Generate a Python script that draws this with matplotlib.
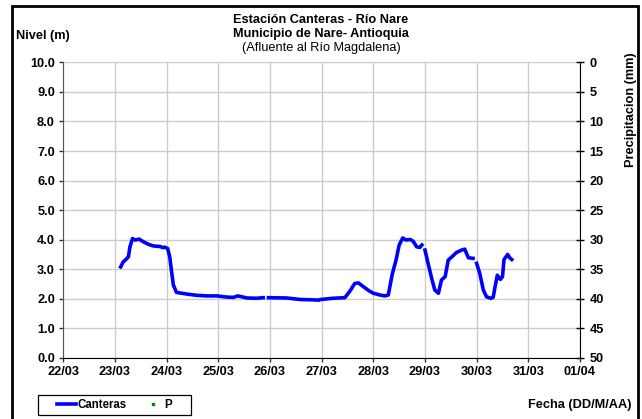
import numpy as np
import matplotlib
matplotlib.use("Agg")
import matplotlib.pyplot as plt
from matplotlib.patches import Rectangle

plt.rcParams['font.family'] = ['Liberation Sans', 'DejaVu Sans']

# nivel (m); day = day of March (32 = 01/04), nan = gap in record
dias = [23.11, 23.16, 23.21, 23.26, 23.29, 23.34, 23.39, 23.47, 23.55, 23.64, 23.74, 23.87, 23.92, np.nan,
        23.97, 24.02, 24.06, 24.10, 24.13, 24.19, 24.29, 24.40, 24.58, 24.77, 24.90, np.nan,
        24.97, 25.16, 25.29, 25.38, 25.55, 25.74, 25.87, np.nan,
        25.97, 26.32, 26.58, 26.77, 26.93, np.nan,
        26.99, 27.22, 27.45, 27.55, 27.64, 27.71, 27.81, 27.92, 28.00, 28.13, 28.22, 28.29,
        28.32, 28.37, 28.44, 28.50, 28.57, 28.63, 28.71, 28.77, 28.84, 28.90, 28.94, np.nan,
        29.00, 29.06, 29.13, 29.19, 29.26, 29.32, 29.39, 29.45, 29.52, 29.61, 29.71, 29.77,
        29.84, 29.93, np.nan,
        30.00, 30.06, 30.13, 30.19, 30.27, 30.32, 30.35, 30.40, 30.43, 30.46, 30.50, 30.53,
        30.60, 30.64, 30.68]
nivel = [3.08, 3.25, 3.33, 3.42, 3.76, 4.04, 3.99, 4.02, 3.93, 3.85, 3.79, 3.77, 3.74, np.nan,
         3.74, 3.70, 3.42, 2.86, 2.47, 2.22, 2.19, 2.16, 2.12, 2.10, 2.10, np.nan,
         2.10, 2.06, 2.05, 2.10, 2.03, 2.02, 2.04, np.nan,
         2.04, 2.03, 1.98, 1.97, 1.96, np.nan,
         1.98, 2.02, 2.04, 2.27, 2.52, 2.54, 2.41, 2.27, 2.19, 2.13, 2.10, 2.13,
         2.41, 2.86, 3.31, 3.82, 4.06, 3.99, 4.01, 3.95, 3.76, 3.74, 3.82, np.nan,
         3.65, 3.20, 2.69, 2.30, 2.19, 2.64, 2.75, 3.31, 3.42, 3.57, 3.65, 3.68,
         3.39, 3.37, np.nan,
         3.20, 2.86, 2.30, 2.07, 2.02, 2.05, 2.35, 2.80, 2.72, 2.66, 2.75, 3.33,
         3.50, 3.39, 3.33]

# precipitacion: no values shown in the chart
dias_p = []
precip = []

dias_ticks = list(range(22, 33))
etiquetas = ['22/03', '23/03', '24/03', '25/03', '26/03', '27/03', '28/03',
             '29/03', '30/03', '31/03', '01/04']

FS = 9.2
W, H = 642, 419

fig = plt.figure(figsize=(6.42, 4.19), dpi=100)
ax = fig.add_axes([0.0986, 0.1456, 0.8048, 0.7057])

ax.plot(dias, nivel, color='#0000FF', lw=2.6, label='Canteras', zorder=3)
ax.set_xlim(22, 32)
ax.set_ylim(0, 10)
ax.set_xticks(dias_ticks)
ax.set_xticklabels(etiquetas)
ax.set_yticks(np.arange(0, 10.1, 1.0))
ax.set_yticklabels([f'{v:.1f}' for v in np.arange(0, 10.1, 1.0)])
ax.grid(True, color='#cccccc', lw=1.0)
ax.set_axisbelow(True)
for lbl in ax.get_xticklabels() + ax.get_yticklabels():
    lbl.set_fontweight('bold')
    lbl.set_fontsize(FS)
ax.tick_params(axis='both', direction='out', length=3, width=1, color='#333333', pad=3)
ax.spines['top'].set_visible(False)
ax.spines['left'].set_color('#555555')
ax.spines['bottom'].set_color('#000000')
ax.spines['right'].set_visible(False)

ax2 = ax.twinx()
ax2.plot(dias_p, precip, 's', color='#008000', ms=2, label='P')
ax2.set_ylim(50, 0)
ax2.set_yticks(range(0, 51, 5))
for lbl in ax2.get_yticklabels():
    lbl.set_fontweight('bold')
    lbl.set_fontsize(FS)
ax2.tick_params(axis='y', direction='inout', length=6, width=1, pad=4)
for s in ['top', 'left', 'bottom']:
    ax2.spines[s].set_visible(False)
ax2.spines['right'].set_color('#000000')
ax2.set_ylabel('Precipitacion (mm)', fontsize=FS, fontweight='bold')
ax2.yaxis.set_label_coords(1.087, 0.84)

fig.text(0.5, 1 - 20 / H, 'Estación Canteras - Río Nare', ha='center', va='center',
         fontsize=FS, fontweight='bold')
fig.text(0.5, 1 - 34 / H, 'Municipio de Nare- Antioquia', ha='center', va='center',
         fontsize=FS, fontweight='bold')
fig.text(0.5, 1 - 48 / H, '(Afluente al Río Magdalena)', ha='center', va='center', fontsize=FS)
fig.text(16 / W, 1 - 36 / H, 'Nivel (m)', ha='left', va='center', fontsize=FS,
         fontweight='bold')
fig.text(632 / W, 1 - 405 / H, 'Fecha (DD/M/AA)', ha='right', va='center', fontsize=FS,
         fontweight='bold')

# legend: entries without frame, box drawn separately
h1, l1 = ax.get_legend_handles_labels()
h2, l2 = ax2.get_legend_handles_labels()
leg = fig.legend(h1 + h2, l1 + l2, loc='center left', bbox_to_anchor=(57 / W, 1 - 405 / H),
                 ncol=2, fontsize=8.3, frameon=False, handlelength=1.65,
                 handletextpad=0.1, columnspacing=1.5, borderpad=0, borderaxespad=0)
for t in leg.get_texts():
    t.set_fontweight('bold')
fig.patches.append(Rectangle((38 / W, 1 - 415 / H), 153 / W, 20 / H,
                             transform=fig.transFigure, fill=False, edgecolor='black', lw=0.9))

fig.patches.append(Rectangle((12 / W, -0.02), 626 / W, 1.02 - 6 / H,
                             transform=fig.transFigure, fill=False, edgecolor='black', lw=2))

fig.savefig('out.png', dpi=100)
